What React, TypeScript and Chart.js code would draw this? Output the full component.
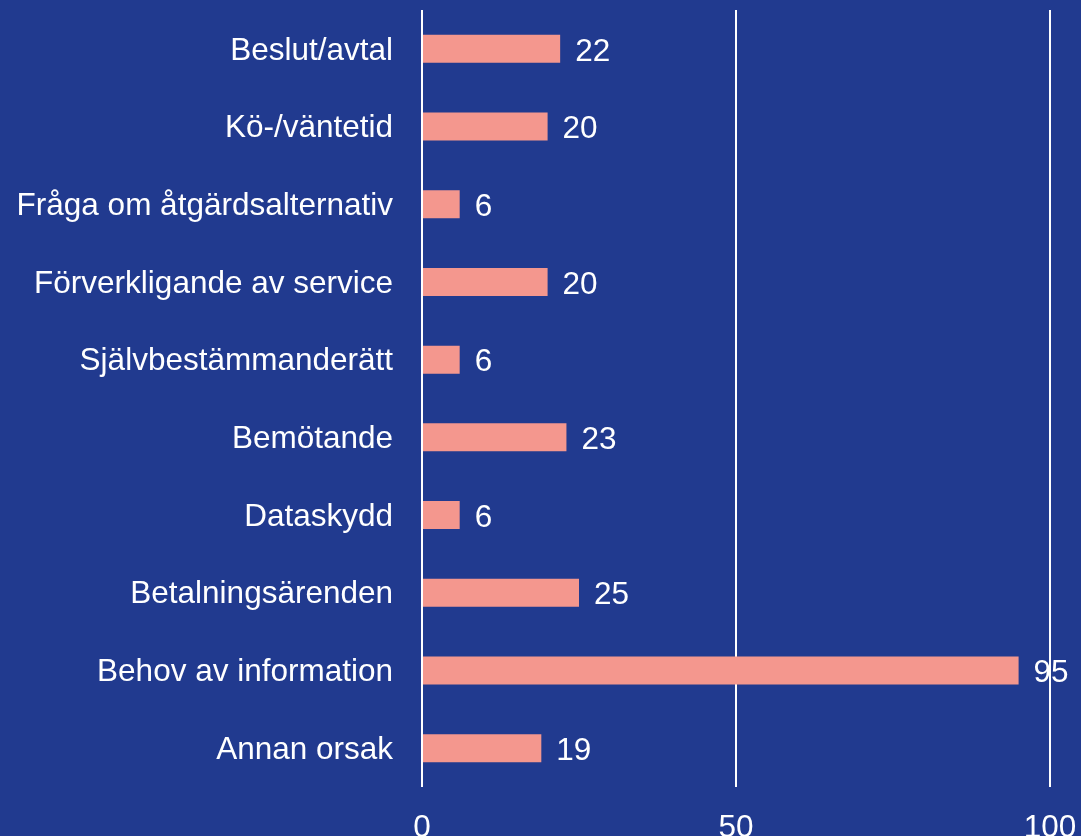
import React, { useEffect, useRef } from "react";
import { Chart, registerables } from "chart.js";

Chart.register(...registerables);

const categories = [
  "Beslut/avtal",
  "Kö-/väntetid",
  "Fråga om åtgärdsalternativ",
  "Förverkligande av service",
  "Självbestämmanderätt",
  "Bemötande",
  "Dataskydd",
  "Betalningsärenden",
  "Behov av information",
  "Annan orsak",
];
const values = [22, 20, 6, 20, 6, 23, 6, 25, 95, 19];
const xTicks = [0, 50, 100];

const BG = "#213A8F";
const BAR = "#F4978E";
const FONT = "'Liberation Sans', Arial, sans-serif";

const valueLabels = {
  id: "valueLabels",
  afterDatasetsDraw(chart: any) {
    const ctx = chart.ctx;
    const meta = chart.getDatasetMeta(0);
    ctx.save();
    ctx.fillStyle = "#FFFFFF";
    ctx.font = `31.5px ${FONT}`;
    ctx.textAlign = "left";
    ctx.textBaseline = "middle";
    meta.data.forEach((el: any, i: number) => {
      ctx.fillText(String(values[i]), el.x + 15, el.y + 3);
    });
    ctx.restore();
  },
};

export default function App() {
  const ref = useRef<HTMLCanvasElement | null>(null);
  useEffect(() => {
    if (!ref.current) return;
    const chart = new Chart(ref.current, {
      type: "bar",
      data: {
        labels: categories,
        datasets: [
          {
            data: values,
            backgroundColor: BAR,
            borderWidth: 0,
            categoryPercentage: 1,
            barPercentage: 0.36,
          },
        ],
      },
      options: {
        indexAxis: "y",
        animation: false,
        responsive: false,
        maintainAspectRatio: false,
        layout: { padding: { top: 10, right: 31, left: 0, bottom: 0 } },
        plugins: { legend: { display: false }, tooltip: { enabled: false } },
        scales: {
          x: {
            type: "linear",
            min: 0,
            max: 100,
            afterBuildTicks: (scale: any) => {
              scale.ticks = xTicks.map((v) => ({ value: v }));
            },
            afterFit: (scale: any) => {
              scale.height = 54;
              scale.paddingLeft = 0;
              scale.paddingRight = 0;
            },
            grid: { color: "#FFFFFF", lineWidth: 2, drawTicks: false },
            border: { display: false },
            ticks: {
              color: "#FFFFFF",
              font: { family: FONT, size: 31.5 },
              padding: 22,
              maxRotation: 0,
            },
          },
          y: {
            type: "category",
            grid: { display: false, drawTicks: false },
            border: { display: false },
            afterFit: (scale: any) => {
              scale.width = 422;
              scale.paddingTop = 0;
              scale.paddingBottom = 0;
            },
            ticks: {
              color: "#FFFFFF",
              font: { family: FONT, size: 31.5 },
              padding: 29,
              labelOffset: 2,
            },
          },
        },
      },
      plugins: [valueLabels],
    } as any);
    return () => chart.destroy();
  }, []);

  return (
    <div
      style={{
        position: "fixed",
        top: 0,
        left: 0,
        width: 1081,
        height: 836,
        overflow: "hidden",
        background: BG,
      }}
    >
      <canvas ref={ref} width={1081} height={841} style={{ display: "block" }} />
    </div>
  );
}
